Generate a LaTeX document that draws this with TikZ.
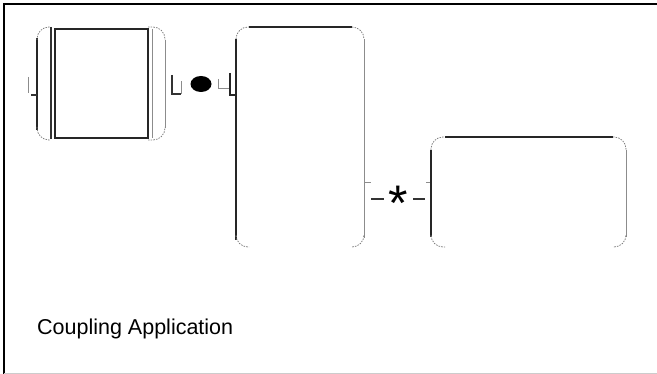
\documentclass[tikz,border=0pt]{standalone}
\usepackage{fontspec}
\setmainfont{Liberation Sans}
\begin{document}
\begin{tikzpicture}[x=1pt,y=-1pt,
  heavy/.style={line width=1.6pt, black!85},
  medium/.style={line width=1.1pt, black!80},
  light/.style={line width=0.7pt, black!45},
  corner/.style={line width=0.8pt, black!50, dash pattern=on 1.5pt off 1.2pt, rounded corners=12pt}]
\useasboundingbox (0,0) rectangle (657,374);
% frame
\draw[line width=2.5pt] (4,374) -- (4,4) -- (657,4);
\draw[line width=0.6pt, black!20] (4,373) -- (657,373);
% motor
\draw[heavy] (37,38) -- (37,130);
\draw[corner] (37,40) |- (50,27);
\draw[corner] (37,127) |- (50,140);
\draw[light] (165,40) -- (165,128);
\draw[corner] (148,27) -| (165,40);
\draw[corner] (148,140) -| (165,127);
\draw[medium] (51,27) -- (51,139);
\draw[heavy] (55,29) rectangle (148,138);
\draw[light] (152,29) -- (152,138);
% left stub
\draw[light] (28,77) -- (28,93);
\draw[medium] (31,95) -- (37,95);
% coupling 1
\draw[medium] (172,75) -- (172,94) -- (181,94);
\draw[light] (181,94) -- (181,81);
\fill (201,84) ellipse [x radius=10.5, y radius=8];
\draw[light] (218,79) -- (218,88) -- (229,88);
\draw[heavy] (230,73) -- (230,95) -- (236,95);
% box 1
\draw[heavy] (249,27) -- (352,27);
\draw[heavy] (236,39) -- (236,240);
\draw[light] (364,39) -- (364,238);
\draw[corner] (236,39) |- (249,27);
\draw[corner] (352,27) -| (364,39);
\draw[corner] (236,237) |- (249,247);
\draw[corner] (364,237) |- (352,247);
% coupling 2
\draw[light] (365,182) -- (371,182);
\draw[medium] (371,199) -- (384,199);
\node[anchor=north, inner sep=0pt, font=\fontsize{50}{50}\selectfont] (star) at (398,186) {*};
\draw[medium] (413,199) -- (425,199);
\draw[light] (426,182) -- (431,182);
% box 2
\draw[heavy] (445,137) -- (613,137);
\draw[heavy] (431,150) -- (431,237);
\draw[light] (626,150) -- (626,237);
\draw[corner] (431,150) |- (445,137);
\draw[corner] (613,137) -| (626,150);
\draw[corner] (431,237) |- (445,247);
\draw[corner] (626,237) |- (613,247);
% caption
\node[anchor=base west, inner sep=0pt, font=\fontsize{21.5}{25}\selectfont] (caption) at (37,335) {Coupling Application};
\end{tikzpicture}
\end{document}
